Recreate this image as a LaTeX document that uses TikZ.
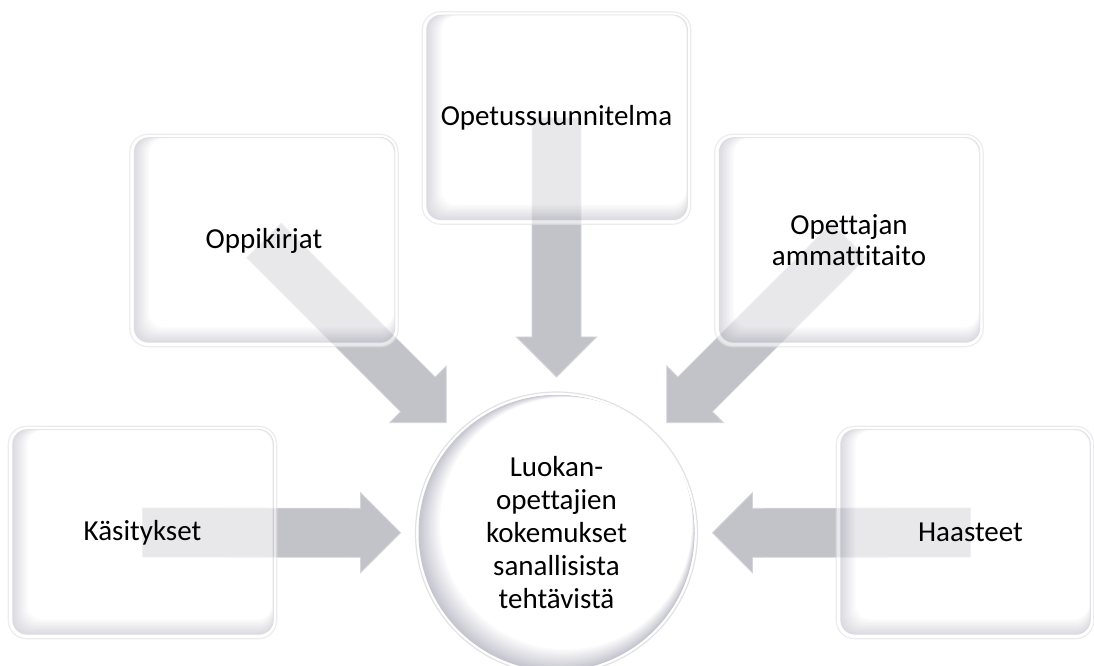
\documentclass[tikz,border=0pt]{standalone}
\usepackage{fontspec}
\setmainfont[Ligatures=NoCommon]{Carlito}
\usetikzlibrary{calc}

\pgfdeclarelayer{arrowlayer}
\pgfdeclarelayer{panellayer}
\pgfsetlayers{arrowlayer,panellayer,main}

\definecolor{bevel}{RGB}{198,198,208}
\definecolor{rim}{RGB}{226,226,230}
\definecolor{arrowfill}{RGB}{194,194,201}
\definecolor{arrowedge}{RGB}{212,212,218}

\tikzset{
  panel/.style={minimum width=268pt, minimum height=212pt, inner sep=0pt,
    align=center, font=\fontsize{29}{31}\selectfont},
  hub/.style={circle, minimum size=282pt, inner sep=0pt, align=center,
    font=\fontsize{29}{33}\selectfont},
  blockarrow/.style={fill=arrowfill, draw=arrowedge, line width=0.8pt, line join=miter},
}

% wide block arrow from #1 to the tip #2
\newcommand\blockarrow[2]{%
  \coordinate (ah) at ($(#2)!40pt!(#1)$);
  \draw[blockarrow]
    ($(#1)!24.5pt!90:(#2)$) -- ($(ah)!24.5pt!90:(#2)$) -- ($(ah)!40pt!90:(#2)$)
    -- (#2)
    -- ($(ah)!40pt!-90:(#2)$) -- ($(ah)!24.5pt!-90:(#2)$) -- ($(#1)!24.5pt!-90:(#2)$)
    -- cycle;
}

% translucent bevelled panel between the corners #1 and #2
\newcommand\bevelpanel[2]{%
  \begin{scope}[transparency group, opacity=0.64]
    \coordinate (pl) at #1;
    \coordinate (pu) at #2;
    \fill[white, draw=rim, line width=1.2pt, rounded corners=18pt] (pl) rectangle (pu);
    \foreach \k in {0,...,11}{
      \pgfmathtruncatemacro\mix{\k*100/11}
      \fill[white!\mix!bevel, rounded corners=15pt]
        ($(pl)+(4+1.4*\k,4+1.4*\k)$) rectangle ($(pu)+(-3-0.15*\k,-3-0.1*\k)$);
    }
  \end{scope}
}

% bevelled disc around #1
\newcommand\bevelhub[1]{%
  \fill[white, draw=rim, line width=1.2pt] (#1) circle (141pt);
  \foreach \k in {0,...,12}{
    \pgfmathtruncatemacro\mix{\k*100/12}
    \pgfmathsetmacro\rad{138-\k}
    \fill[white!\mix!bevel] ($(#1)+(0.8*\k,0.8*\k)$) circle (\rad pt);
  }
}

\begin{document}
\begin{tikzpicture}[x=1pt,y=1pt]
\useasboundingbox (0,0) rectangle (1094,666);

\node[hub] (hub) at (556.5,133)
  {Luokan-\\opettajien\\kokemukset\\sanallisista\\tehtävistä};
\node[panel] (ops) at (556.5,548) {Opetussuunnitelma};
\node[panel] (opp) at (264,425.5) {Oppikirjat};
\node[panel] (ope) at (849,425.5) {Opettajan\\ammattitaito};
\node[panel] (kas) at (142.5,133.5) {Käsitykset};
\node[panel] (haa) at (970.5,133.5) {Haasteet};

\foreach \n in {ops,opp,ope,kas,haa}
  \coordinate (tip-\n) at ($(hub.center)!156pt!(\n.center)$);

\begin{pgfonlayer}{arrowlayer}
  \foreach \n in {ops,opp,ope,kas,haa} {\blockarrow{\n.center}{tip-\n}}
\end{pgfonlayer}

\begin{pgfonlayer}{panellayer}
  \bevelpanel{(ops.south west)}{(ops.north east)}
  \bevelpanel{(opp.south west)}{(opp.north east)}
  \bevelpanel{(ope.south west)}{(ope.north east)}
  \bevelpanel{(kas.south west)}{(kas.north east)}
  \bevelpanel{(haa.south west)}{($(haa.north east)+(-11,0)$)}
  \bevelhub{hub.center}
\end{pgfonlayer}
\end{tikzpicture}
\end{document}
